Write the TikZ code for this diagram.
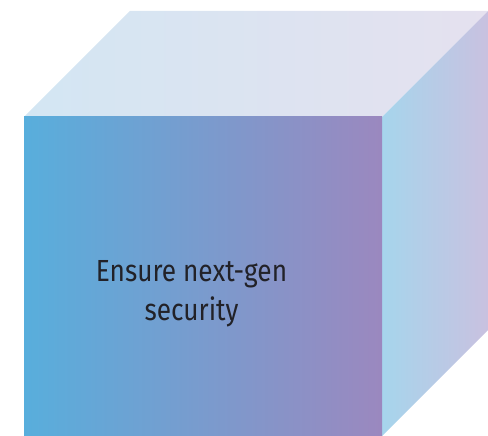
\documentclass[tikz,border=0pt]{standalone}
\usepackage{fontspec}
\setmainfont{Fira Sans}[FakeStretch=0.86]
\definecolor{frontL}{HTML}{58AEDC}
\definecolor{frontR}{HTML}{9B88BF}
\definecolor{topL}{HTML}{D3E6F3}
\definecolor{topR}{HTML}{E5E1EF}
\definecolor{sideL}{HTML}{A6D5EC}
\definecolor{sideR}{HTML}{C9C1E0}
\definecolor{txt}{HTML}{222228}
\begin{document}
\begin{tikzpicture}[x=1pt,y=-1pt,
  lbl/.style={font=\fontsize{30.5}{39}\selectfont, text=txt, align=center, inner sep=0pt}]
\useasboundingbox (0,0) rectangle (488,436);
\coordinate (fTL) at (24,117);
\coordinate (fTR) at (382,117);
\coordinate (fBR) at (382,436);
\coordinate (fBL) at (24,436);
\coordinate (bTL) at (130,11);
\coordinate (bTR) at (488,11);
\coordinate (bBR) at (488,330);
\shade[left color=topL, right color=topR] (fTL) -- (bTL) -- (bTR) -- (fTR) -- cycle;
\shade[left color=sideL, right color=sideR] (fTR) -- (bTR) -- (bBR) -- (fBR) -- cycle;
\shade[left color=frontL, right color=frontR] (fTL) rectangle (fBR);
\node[lbl] (t) at (191.5,294) {Ensure next-gen\\security};
\end{tikzpicture}
\end{document}
